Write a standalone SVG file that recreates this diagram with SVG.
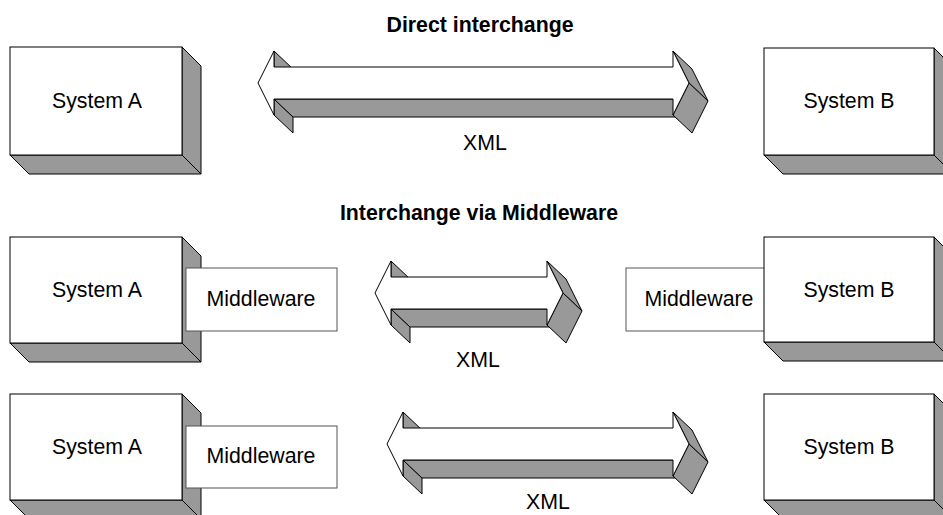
<svg xmlns="http://www.w3.org/2000/svg" width="943" height="515" viewBox="0 0 943 515">
<style>
.front{fill:#ffffff;stroke:#000000;stroke-width:1}
.shade{fill:#999999;stroke:#000000;stroke-width:1;stroke-linejoin:miter}
.mw{fill:#ffffff;stroke:#555555;stroke-width:1}
.t{font-family:"Liberation Sans",Arial,sans-serif;font-size:21.3px;fill:#000000;text-anchor:middle}
.title{font-family:"Liberation Sans",Arial,sans-serif;font-size:21.3px;font-weight:bold;fill:#000000;text-anchor:middle}
</style>
<rect width="943" height="515" fill="#ffffff"/>
<text class="title" x="480" y="32">Direct interchange</text>
<text class="title" x="479" y="220">Interchange via Middleware</text>

<g id="sysA1">
<polygon class="shade" points="182,47 201,66 201,174 182,155"/>
<polygon class="shade" points="10,155 182,155 201,174 29,174"/>
<rect class="front" x="10" y="47" width="172" height="108"/>
<text class="t" x="97" y="108">System A</text>
</g>
<g id="sysB1">
<polygon class="shade" points="934,48 953,67 953,174 934,155"/>
<polygon class="shade" points="764,155 934,155 953,174 783,174"/>
<rect class="front" x="764" y="48" width="170" height="107"/>
<text class="t" x="849" y="108">System B</text>
</g>

<g id="sysA2">
<polygon class="shade" points="182,237 201,256 201,362 182,343"/>
<polygon class="shade" points="10,343 182,343 201,362 29,362"/>
<rect class="front" x="10" y="237" width="172" height="106"/>
<text class="t" x="97" y="297">System A</text>
</g>
<g id="mwA2">
<rect class="mw" x="186" y="268" width="151" height="63"/>
<text class="t" x="261" y="306">Middleware</text>
</g>
<g id="mwB2">
<rect class="mw" x="626" y="268" width="151" height="63"/>
<text class="t" x="699" y="306">Middleware</text>
</g>
<g id="sysB2">
<polygon class="shade" points="934,237 953,256 953,361 934,342"/>
<polygon class="shade" points="764,342 934,342 953,361 783,361"/>
<rect class="front" x="764" y="237" width="170" height="105"/>
<text class="t" x="849" y="297">System B</text>
</g>

<g id="sysA3">
<polygon class="shade" points="182,394 201,413 201,519 182,500"/>
<polygon class="shade" points="10,500 182,500 201,519 29,519"/>
<rect class="front" x="10" y="394" width="172" height="106"/>
<text class="t" x="97" y="454">System A</text>
</g>
<g id="mwA3">
<rect class="mw" x="186" y="426" width="151" height="62"/>
<text class="t" x="261" y="463">Middleware</text>
</g>
<g id="sysB3">
<polygon class="shade" points="934,394 953,413 953,519 934,500"/>
<polygon class="shade" points="764,500 934,500 953,519 783,519"/>
<rect class="front" x="764" y="394" width="170" height="106"/>
<text class="t" x="849" y="454">System B</text>
</g>

<g id="connectors">
<g id="xml1">
<polygon class="shade" points="274,51 293,69 293,85 274,67"/>
<polygon class="shade" points="274,99 293,117 293,133 274,115"/>
<polygon class="shade" points="274,99 673,99 692,117 293,117"/>
<polygon class="shade" points="673,51 692,69 708,101 689,83"/>
<polygon class="shade" points="689,83 708,101 692,133 673,115"/>
<polygon class="front" points="258,83 274,51 274,67 673,67 673,51 689,83 673,115 673,99 274,99 274,115"/>
<text class="t" x="485" y="150">XML</text>
</g>
<g id="xml2">
<polygon class="shade" points="391,261 410,279 410,295 391,277"/>
<polygon class="shade" points="391,309 410,327 410,343 391,325"/>
<polygon class="shade" points="391,309 547,309 566,327 410,327"/>
<polygon class="shade" points="547,261 566,279 582,311 563,293"/>
<polygon class="shade" points="563,293 582,311 566,343 547,325"/>
<polygon class="front" points="375,293 391,261 391,277 547,277 547,261 563,293 547,325 547,309 391,309 391,325"/>
<text class="t" x="478" y="367">XML</text>
</g>
<g id="xml3">
<polygon class="shade" points="403,412 422,430 422,446 403,428"/>
<polygon class="shade" points="403,460 422,478 422,494 403,476"/>
<polygon class="shade" points="403,460 673,460 692,478 422,478"/>
<polygon class="shade" points="673,412 692,430 708,462 689,444"/>
<polygon class="shade" points="689,444 708,462 692,494 673,476"/>
<polygon class="front" points="387,444 403,412 403,428 673,428 673,412 689,444 673,476 673,460 403,460 403,476"/>
<text class="t" x="548" y="509">XML</text>
</g>
</g>
</svg>
